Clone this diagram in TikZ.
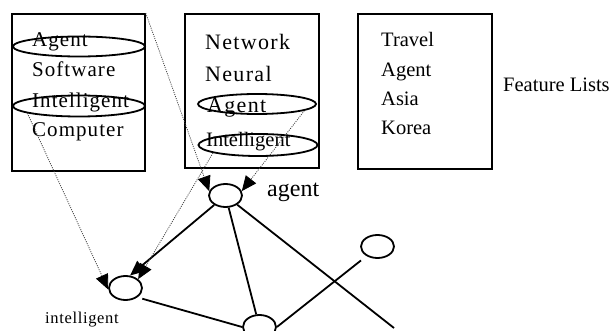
\documentclass[tikz,border=0pt]{standalone}
\usepackage{fontspec}
\setmainfont{Liberation Serif}
\usetikzlibrary{shapes.geometric,arrows.meta}
\begin{document}
\begin{tikzpicture}[x=1pt,y=-1pt,
  listbox/.style={draw, line width=1.6pt, inner sep=0pt},
  hl/.style={draw, ellipse, line width=1.8pt, inner sep=0pt},
  word/.style={anchor=base west, inner sep=0pt, font=\fontsize{21}{21}\selectfont\addfontfeature{LetterSpace=5}},
  plainword/.style={anchor=base west, inner sep=0pt, font=\fontsize{20.5}{20.5}\selectfont},
  wideword/.style={anchor=base west, inner sep=0pt, font=\fontsize{22}{22}\selectfont\addfontfeature{LetterSpace=6}},
  vertex/.style={draw, ellipse, line width=1.8pt, minimum width=33pt, minimum height=23pt, inner sep=0pt},
  link/.style={line width=1.8pt},
  tip/.style={-{Triangle[length=15pt,width=13pt,color=black]}},
  trace/.style={line width=0.8pt, draw=black!75, dash pattern=on 1pt off 1.2pt, tip}]
\useasboundingbox (0,0) rectangle (614,331);
\clip (0,0) rectangle (614,331);

% feature list boxes
\node[listbox, minimum width=133pt, minimum height=157pt] (b1) at (78.5,92.5) {};
\node[listbox, minimum width=134pt, minimum height=154pt] (b2) at (252,91) {};
\node[listbox, minimum width=134pt, minimum height=155pt] (b3) at (425,91.5) {};

% first list
\node[word] (t11) at (32,47) {Agent};
\node[word] (t12) at (32,77) {Software};
\node[word] (t13) at (32,108) {Intelligent};
\node[word] (t14) at (32,137) {Computer};
\node[hl, minimum width=132pt, minimum height=20pt] (h11) at (79,46.5) {};
\node[hl, minimum width=132pt, minimum height=21pt] (h12) at (79,106) {};

% second list
\node[wideword] (t21) at (205,50) {Network};
\node[wideword] (t22) at (205,82) {Neural};
\node[wideword] (t23) at (207,113) {Agent};
\node[plainword] (t24) at (206,147) {Intelligent};
\node[hl, minimum width=118pt, minimum height=20pt] (h21) at (257,104) {};
\node[hl, minimum width=119pt, minimum height=22pt] (h22) at (258,145) {};

% third list
\node[plainword] (t31) at (381,47) {Travel};
\node[plainword] (t32) at (381,77) {Agent};
\node[plainword] (t33) at (381,106) {Asia};
\node[plainword] (t34) at (381,135) {Korea};

\node[plainword] (cap) at (503,92) {Feature Lists};

% term graph
\node[vertex] (agent) at (225.5,195.5) {};
\node[vertex, minimum height=24pt] (intel) at (125.5,288) {};
\node[vertex, minimum height=24pt] (low) at (259.5,327) {};
\node[vertex] (right) at (377.5,246.5) {};
\coordinate (loose) at (394,328);

\node[anchor=base west, inner sep=0pt, font=\fontsize{24}{24}\selectfont] (lagent) at (267,197) {agent};
\node[anchor=base west, inner sep=0pt, font=\fontsize{16.5}{16.5}\selectfont\addfontfeature{LetterSpace=4}] (lintel) at (45,324) {intelligent};

\draw[link, tip] (agent) -- (intel.70);
\draw[link] (agent) -- (low);
\draw[link] (agent) -- (loose);
\draw[link, shorten >=7pt] (low.east) -- (right.221);
\draw[link, shorten <=5pt] (intel.-38) -- (low.west);

% term occurrences mapped onto the graph
\draw[trace] (b1.north east) -- (agent.165);
\draw[trace] (h21.-8) -- (agent.15);
\draw[trace] (h22.190) -- (intel.35);
\draw[trace] (h12.188) -- (intel.185);
\end{tikzpicture}
\end{document}
